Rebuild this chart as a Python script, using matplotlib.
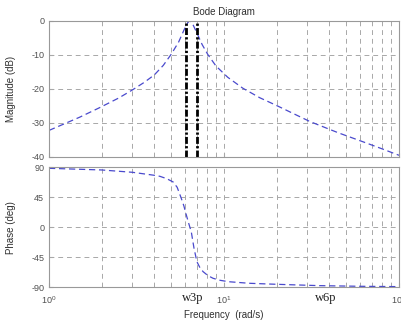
import matplotlib
matplotlib.use('Agg')
import matplotlib.pyplot as plt
import numpy as np

plt.rcParams['font.family'] = ['Liberation Sans', 'DejaVu Sans']
plt.rcParams['axes.unicode_minus'] = False

# magnitude curve
freq_mag = [1.0, 1.5, 1.95, 2.5, 3.0, 3.5, 4.0, 4.5, 5.0, 5.5, 5.9, 6.2, 6.37,
            6.6, 7.0, 7.5, 8.1, 9.0, 10.5, 12.8, 16, 20, 31, 45, 62, 80, 100]
mag_db = [-32.2, -28.3, -25.5, -22.7, -20.3, -18.1, -15.9, -13.1, -9.8, -6.3,
          -2.8, -0.6, 0.0, -0.8, -3.6, -7.0, -10.0, -13.3, -16.6, -19.8,
          -22.6, -24.9, -29.6, -32.9, -35.5, -37.6, -39.5]

# phase curve
freq_ph = [1.0, 2.0, 3.0, 4.0, 4.3, 4.7, 5.12, 5.4, 5.7, 5.9, 6.09, 6.3, 6.5,
           6.74, 7.0, 7.3, 7.6, 8.1, 8.66, 9.5, 10.6, 14, 20, 35, 60, 100]
phase_deg = [88.5, 86.0, 82.5, 78.0, 76.5, 73.0, 68.0, 60.0, 43.5, 32.0, 18.5,
             5.0, -6.5, -31.5, -51.6, -61.0, -66.6, -72.5, -76.5, -79.5,
             -81.6, -84.0, -85.5, -87.5, -88.5, -89.0]

# marked frequencies
vline_freqs = [6.05, 7.0]
label_freqs = [6.67, 38.1]
label_names = ['w3p', 'w6p']

mag_ticks = [-40, -30, -20, -10, 0]
ph_ticks = [-90, -45, 0, 45, 90]

line_col = '#4a4acd'
grid_col = '#a8a8a8'
txt_col = '#505050'

fig = plt.figure(figsize=(4.01, 3.22), dpi=100)
ax1 = fig.add_axes([49/401, 1-157/322, 350/401, 136.3/322])
ax2 = fig.add_axes([49/401, 1-287.3/322, 350/401, 120/322])

for ax in (ax1, ax2):
    ax.set_xscale('log')
    ax.set_xlim(1, 100)
    ax.grid(True, which='both', ls=(0, (5, 4)), color=grid_col, lw=0.7)
    ax.tick_params(which='both', direction='in', colors=grid_col,
                   labelcolor=txt_col, labelsize=6.5, length=3)
    ax.tick_params(which='minor', length=2)
    for s in ax.spines.values():
        s.set_color('#999999')
        s.set_linewidth(0.8)

ax1.plot(freq_mag, mag_db, ls=(0, (5, 3)), color=line_col, lw=0.9)
for f in vline_freqs:
    ax1.axvline(f, color='black', ls=(0, (2.5, 0.8, 0.8, 0.8)), lw=2.0)
ax1.set_ylim(-40, 0)
ax1.set_yticks(mag_ticks)
ax1.tick_params(labelbottom=False)
ax1.set_ylabel('Magnitude (dB)', fontsize=7, color='#303030')
ax1.set_title('Bode Diagram', fontsize=7, color='#303030', pad=4)

ax2.plot(freq_ph, phase_deg, ls=(0, (5, 3)), color=line_col, lw=0.9)
ax2.set_ylim(-90, 90)
ax2.set_yticks(ph_ticks)
ax2.tick_params(axis='x', pad=5)
ax2.set_ylabel('Phase (deg)', fontsize=7, color='#303030')
ax2.set_xlabel('Frequency  (rad/s)', fontsize=7, color='#303030', labelpad=3)
for f, name in zip(label_freqs, label_names):
    ax2.text(f, -0.04, name, transform=ax2.get_xaxis_transform(),
             ha='center', va='top', fontsize=9, family='Liberation Serif',
             color='#202020')

ax1.yaxis.set_label_coords(-0.095, 0.5)
ax2.yaxis.set_label_coords(-0.095, 0.5)

fig.savefig('out.png', dpi=100)
